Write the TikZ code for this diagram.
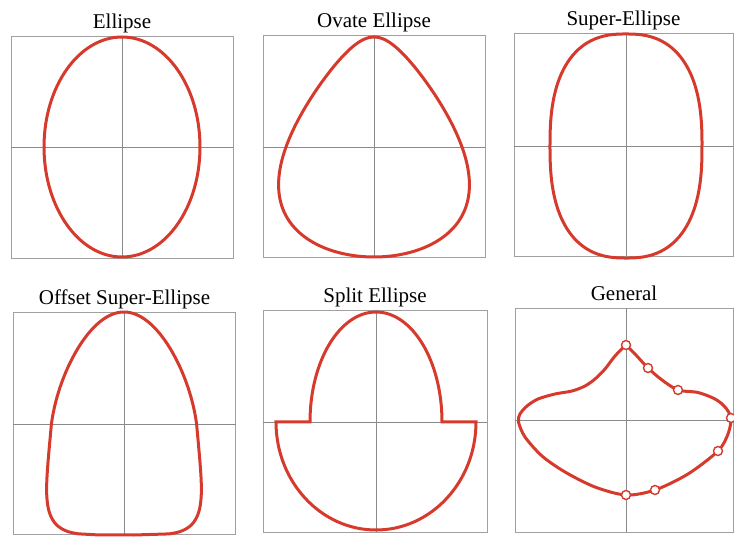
\documentclass[tikz,border=0pt]{standalone}
\usepackage{fontspec}
\setmainfont{Liberation Serif}
\usepackage{tikz}
\usetikzlibrary{positioning}
\definecolor{CurveRed}{HTML}{D63A2C}
\definecolor{FrameGray}{HTML}{A0A0A0}
\definecolor{AxisGray}{HTML}{8A8A8A}

\tikzset{
  frame/.style={draw=FrameGray,line width=0.9pt,minimum width=222pt,minimum height=222pt,inner sep=0pt},
  axis/.style={AxisGray,line width=0.8pt},
  curve/.style={CurveRed,line width=3pt,line join=round},
  title/.style={font=\fontsize{21}{24}\selectfont,inner sep=0pt,text height=0.7em,text depth=0.22em},
  marker/.style={circle,draw=CurveRed,fill=white,line width=1.4pt,minimum size=9pt,inner sep=0pt}
}

\begin{document}
\begin{tikzpicture}[x=1pt,y=1pt]
\useasboundingbox (0,0) rectangle (734,536);
% top row
\begin{scope}[shift={(122,389)}]
  \node[frame] (f1) at (0,0) {};
  \node[title,above=5pt of f1] (t1) {Ellipse};
  \draw[axis] (f1.west) -- (f1.east);
  \draw[axis] (f1.north) -- (f1.south);
  \draw[curve] (0,0) ellipse [x radius=78,y radius=110];
\end{scope}
\begin{scope}[shift={(374,389)}]
  \node[frame] (f2) at (0,1) {};
  \node[title,above=5pt of f2] (t2) {Ovate Ellipse};
  \draw[axis] (f2.west |- 0,0) -- (f2.east |- 0,0);
  \draw[axis] (f2.north) -- (f2.south);
  \draw[curve] plot[smooth,domain=0:357,samples=120]
    ({88*cos(\x)*(1-0.45*sin(\x))},{110*sin(\x)}) -- cycle;
\end{scope}
\begin{scope}[shift={(626,390)}]
  \node[frame,minimum width=219pt,minimum height=223pt] (f3) at (-2.5,1.5) {};
  \node[title,above=5pt of f3] (t3) {Super-Ellipse};
  \draw[axis] (f3.west |- 0,0) -- (f3.east |- 0,0);
  \draw[axis] (f3.north -| 0,0) -- (f3.south -| 0,0);
  \draw[curve] plot[smooth,domain=1:358,samples=120]
    ({76*sign(cos(\x))*abs(cos(\x))^0.8},{112*sign(sin(\x))*abs(sin(\x))^0.8}) -- cycle;
\end{scope}
% bottom row
\begin{scope}[shift={(124,112)}]
  \node[frame] (f4) at (0.5,1) {};
  \node[title,above=5pt of f4] (t4) {Offset Super-Ellipse};
  \draw[axis] (f4.west |- 0,0) -- (f4.east |- 0,0);
  \draw[axis] (f4.north -| 0,0) -- (f4.south -| 0,0);
  % upper half elliptic, lower half super-elliptic (n=5)
  \draw[curve] plot[smooth,domain=0:180,samples=61]
    ({(72.6-15*sin(\x))*cos(\x)},{112*sin(\x)})
    -- plot[domain=0:1,samples=101]
    ({-(72.6+10*\x)*(1-\x*\x*\x*\x*\x+0.00001)^0.2},{-111*\x})
    -- plot[domain=1:0,samples=101]
    ({(72.6+10*\x)*(1-\x*\x*\x*\x*\x+0.00001)^0.2},{-111*\x})
    -- cycle;
\end{scope}
\begin{scope}[shift={(376,114)}]
  \node[frame,minimum width=224pt] (f5) at (-1,1) {};
  \node[title,above=5pt of f5] (t5) {Split Ellipse};
  \draw[axis] (f5.west |- 0,0) -- (f5.east |- 0,0);
  \draw[axis] (f5.north -| 0,0) -- (f5.south -| 0,0);
  \draw[curve,line join=miter] (-100,0) -- (-66,0)
    arc[start angle=180,end angle=0,x radius=66,y radius=110]
    -- (100,0) arc[start angle=0,end angle=-180,x radius=100,y radius=108] -- cycle;
\end{scope}
\begin{scope}[shift={(626,116)}]
  \node[frame,minimum width=218pt,minimum height=224pt] (f6) at (-2,0) {};
  \node[title,above=5pt of f6] (t6) {General};
  \draw[axis] (f6.west |- 0,0) -- (f6.east |- 0,0);
  \draw[axis] (f6.north -| 0,0) -- (f6.south -| 0,0);
  \draw[curve] plot[smooth] coordinates {(0,75) (-11,64) (-21,51) (-31,41)
    (-41,34) (-54,29) (-71,26) (-88,21) (-99,14) (-106,6) (-107.5,-2)
    (-101,-17) (-84,-36) (-61,-52) (-31,-67) (0,-75) (29,-70) (62,-54)
    (92,-31) (102,-14) (105,2) (99,13) (89,21) (72,27.5) (52,30) (36,40)
    (22,52) (9,66) (0,75)};
  \node[marker] (m1) at (0,75) {};
  \node[marker] (m2) at (22,52) {};
  \node[marker] (m3) at (52,30) {};
  \node[marker] (m4) at (105,2) {};
  \node[marker] (m5) at (92,-31) {};
  \node[marker] (m6) at (29,-70) {};
  \node[marker] (m7) at (0,-75) {};
\end{scope}
\end{tikzpicture}
\end{document}
